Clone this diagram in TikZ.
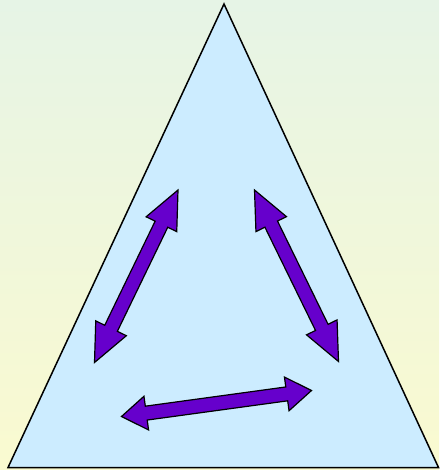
\documentclass[tikz,border=0pt]{standalone}
\usepackage{tikz}
\usetikzlibrary{calc}
\definecolor{bgTop}{RGB}{230, 244, 230}
\definecolor{bgBottom}{RGB}{250, 250, 208}
\definecolor{skyFill}{RGB}{204, 236, 255}
\definecolor{arrowPurple}{RGB}{102, 0, 204}
\tikzset{
  biarrow/.style={fill=arrowPurple, draw=black, line width=1.2pt, line join=miter},
}
\newcommand{\hw}{17pt}% half head width
\newcommand{\sw}{7pt}% half shaft width
% #1 = head length
\newcommand{\biarrow}[3][37pt]{%
  \draw[biarrow] (#2)
    -- ($(#2)!#1!(#3)!\hw!90:(#3)$)
    -- ($(#2)!#1!(#3)!\sw!90:(#3)$)
    -- ($(#3)!#1!(#2)!\sw!-90:(#2)$)
    -- ($(#3)!#1!(#2)!\hw!-90:(#2)$)
    -- (#3)
    -- ($(#3)!#1!(#2)!\hw!90:(#2)$)
    -- ($(#3)!#1!(#2)!\sw!90:(#2)$)
    -- ($(#2)!#1!(#3)!\sw!-90:(#3)$)
    -- ($(#2)!#1!(#3)!\hw!-90:(#3)$)
    -- cycle;}
\begin{document}
\begin{tikzpicture}[x=1pt, y=-1pt]
    % background
    \shade[top color=bgTop, bottom color=bgBottom] (0,0) rectangle (439,470);
    \useasboundingbox (0,0) rectangle (439,470);
    \coordinate (T) at (224,4);
    \coordinate (L) at (8,467.5);
    \coordinate (R) at (438.5,467.5);
    \draw[fill=skyFill, line width=1.5pt, line join=miter] (T) -- (L) -- (R) -- cycle;
    % arrows
    \coordinate (A1) at (178,190);
    \coordinate (A2) at (94.5,362.5);
    \coordinate (B1) at (254.5,190);
    \coordinate (B2) at (338.5,361.5);
    \coordinate (C1) at (121.5,416.5);
    \coordinate (C2) at (311.5,390.5);
    \biarrow[38pt]{A1}{A2}
    \biarrow[38pt]{B1}{B2}
    \biarrow[25pt]{C1}{C2}
\end{tikzpicture}
\end{document}
